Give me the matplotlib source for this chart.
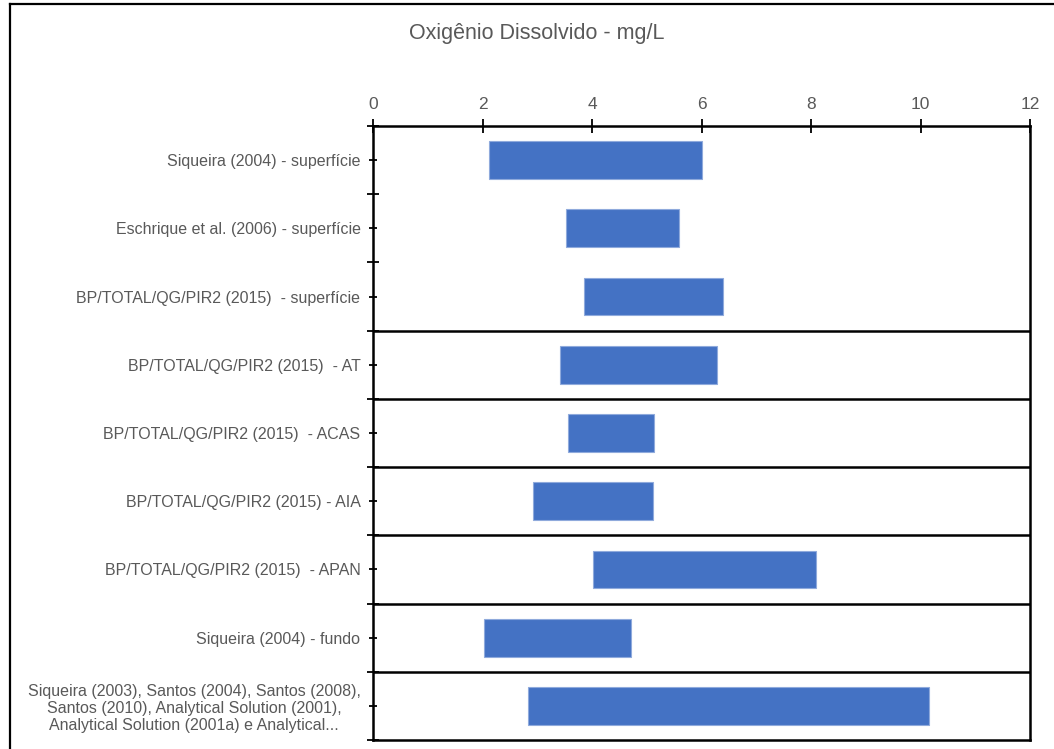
import matplotlib
matplotlib.use("Agg")
import matplotlib.pyplot as plt
from matplotlib.lines import Line2D

plt.rcParams['font.family'] = ['Liberation Sans', 'DejaVu Sans']

categories = [
    "Siqueira (2004) - superfície",
    "Eschrique et al. (2006) - superfície",
    "BP/TOTAL/QG/PIR2 (2015)  - superfície",
    "BP/TOTAL/QG/PIR2 (2015)  - AT",
    "BP/TOTAL/QG/PIR2 (2015)  - ACAS",
    "BP/TOTAL/QG/PIR2 (2015) - AIA",
    "BP/TOTAL/QG/PIR2 (2015)  - APAN",
    "Siqueira (2004) - fundo",
    "Siqueira (2003), Santos (2004), Santos (2008),\nSantos (2010), Analytical Solution (2001),\nAnalytical Solution (2001a) e Analytical...",
]
od_min = [2.12, 3.53, 3.86, 3.42, 3.57, 2.93, 4.01, 2.03, 2.84]
od_max = [6.01, 5.59, 6.39, 6.28, 5.13, 5.11, 8.09, 4.71, 10.15]
x_ticks = [0, 2, 4, 6, 8, 10, 12]

title = "Oxigênio Dissolvido - mg/L"
text_gray = "#595959"
bar_blue = "#4472C4"

fig = plt.figure(figsize=(10.54, 7.49), dpi=100)
ax = fig.add_axes([373 / 1054, 1 - 740 / 749, (1030 - 373) / 1054, (740 - 126) / 749])

pos = list(range(len(categories)))
widths = [hi - lo for lo, hi in zip(od_min, od_max)]
ax.barh(pos, widths, left=od_min, height=0.553, color=bar_blue,
        edgecolor="#8FAADC", linewidth=0.8, zorder=3)

ax.set_xlim(0, 12)
ax.set_ylim(len(categories) - 0.5, -0.5)

# value axis on top
ax.xaxis.tick_top()
ax.set_xticks(x_ticks)
ax.set_xticklabels([str(t) for t in x_ticks])
ax.tick_params(axis="x", direction="inout", length=10, width=1.3, color="black",
               labelcolor=text_gray, labelsize=12.5, pad=5)

# category axis: labels at centres, longer marks at boundaries
ax.set_yticks(pos)
ax.set_yticklabels(categories, multialignment="center", linespacing=1.15)
ax.set_yticks([p - 0.5 for p in pos] + [len(pos) - 0.5], minor=True)
ax.tick_params(axis="y", which="major", direction="inout", length=6, width=1.3,
               color="black", labelcolor=text_gray, labelsize=11.5, pad=6)
ax.tick_params(axis="y", which="minor", direction="inout", length=9, width=1.3,
               color="black")

for s in ax.spines.values():
    s.set_linewidth(1.8)
    s.set_color("black")

# separators between the deeper rows
for b in range(2, len(categories) - 1):
    ax.axhline(b + 0.5, color="black", linewidth=1.8, zorder=2)

fig.text(537 / 1054, 1 - 33 / 749, title, ha="center", va="center",
         fontsize=15.5, color=text_gray)

# chart frame (left and top edges)
fig.add_artist(Line2D([10 / 1054, 10 / 1054], [0, 1 - 4 / 749],
                      transform=fig.transFigure, color="black", linewidth=1.6))
fig.add_artist(Line2D([10 / 1054, 1], [1 - 4 / 749, 1 - 4 / 749],
                      transform=fig.transFigure, color="black", linewidth=1.6))

fig.savefig("out.png", dpi=100, facecolor="white")
